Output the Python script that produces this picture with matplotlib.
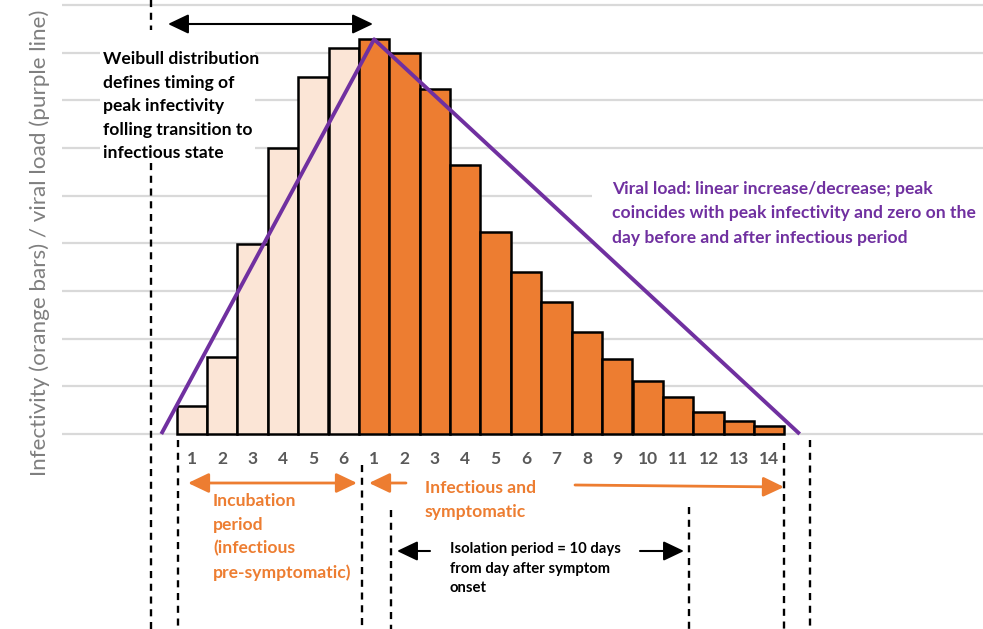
import matplotlib.pyplot as plt
from matplotlib.patches import Rectangle

# infectivity per day (grid units)
pre_days = ["1", "2", "3", "4", "5", "6"]
pre_infectivity = [0.59, 1.61, 3.98, 6.0, 7.48, 8.09]
inf_days = ["1", "2", "3", "4", "5", "6", "7", "8", "9", "10", "11", "12", "13", "14"]
inf_infectivity = [8.28, 7.99, 7.23, 5.64, 4.23, 3.40, 2.77, 2.14, 1.57, 1.11,
                   0.78, 0.46, 0.27, 0.17]
# viral load: zero the day before / after, peak on day 1 of symptoms
viral_day = [-1, 6, 20]
viral_load = [0, 8.28, 0]
grid_levels = list(range(0, 10))

W, H = 983, 629
BAR_X0, BAR_W, BASE_Y, UNIT = 176.5, 30.4, 434, 47.67

FONT = "Lato"
ORANGE = "#ED7D31"
LIGHT = "#FBE5D6"
PURPLE = "#7030A0"
NOTE_SIZE = 12.6


def dx(px):
    return (px - BAR_X0) / BAR_W - 0.5


def dy(py):
    return (BASE_Y - py) / UNIT


def fp(px, py):
    return (px / W, 1 - py / H)


fig = plt.figure(figsize=(W / 100, H / 100), dpi=100)
ax = fig.add_axes([0, 0, 1, 1])
ax.set_xlim(dx(0), dx(W))
ax.set_ylim(dy(H), dy(0))
ax.axis("off")

# gridlines
for g in grid_levels:
    ax.plot([dx(62), dx(W)], [g, g], color="#d9d9d9", lw=1.6, zorder=0,
            solid_capstyle="butt")

# white boxes behind the notes (they cut the gridlines)
ax.add_patch(Rectangle((dx(100), dy(163)), dx(255) - dx(100), dy(30) - dy(163),
                       facecolor="white", edgecolor="none", zorder=1.5))
ax.add_patch(Rectangle((dx(592), dy(252)), dx(W) - dx(592), dy(172) - dy(252),
                       facecolor="white", edgecolor="none", zorder=1.5))

# bars
n_pre = len(pre_infectivity)
ax.bar(range(n_pre), pre_infectivity, width=1, color=LIGHT,
       edgecolor="black", lw=1.8, zorder=2)
ax.bar(range(n_pre, n_pre + len(inf_infectivity)), inf_infectivity, width=1,
       color=ORANGE, edgecolor="black", lw=1.8, zorder=2)

# viral load line
ax.plot(viral_day, viral_load, color=PURPLE, lw=2.8, zorder=4,
        solid_capstyle="butt")

# day labels
for i, lab in enumerate(pre_days + inf_days):
    ax.text(i, dy(459), lab, ha="center", va="center", color="#595959",
            fontsize=12.5, fontweight="bold", family=FONT)

# dashed vertical markers
dashed = [(151, 0, 30), (151, 163, 629), (178, 440, 629), (362, 465, 629),
          (391, 510, 629), (689, 507, 629), (784, 443, 629), (810, 440, 629)]
for x, y0, y1 in dashed:
    ax.plot([dx(x), dx(x)], [dy(y0), dy(y1)], color="black", lw=1.7,
            dashes=(3, 2.4), zorder=1)


def arrow(x0, y0, x1, y1, color, style, lw=1.5):
    ax.annotate("", xy=fp(x1, y1), xytext=fp(x0, y0),
                xycoords="figure fraction", textcoords="figure fraction",
                arrowprops=dict(arrowstyle=style, color=color, lw=lw,
                                shrinkA=0, shrinkB=0, mutation_scale=12),
                zorder=6)


head = ",head_length=1.05,head_width=0.5"
arrow(168, 24, 373, 24, "black", "<|-|>" + head, lw=1.5)
arrow(188, 483, 357, 483, ORANGE, "<|-|>" + head, lw=2)
arrow(406, 483, 369, 483, ORANGE, "-|>" + head, lw=2)
arrow(575, 485, 784, 487, ORANGE, "-|>" + head, lw=2)
arrow(430, 551, 397, 551, "black", "-|>" + head, lw=1.5)
arrow(640, 551, 684, 551, "black", "-|>" + head, lw=1.5)

# notes
fig.text(*fp(103, 51), "Weibull distribution\ndefines timing of\npeak infectivity\n"
         "folling transition to\ninfectious state", ha="left", va="top",
         fontsize=NOTE_SIZE, fontweight="bold", family=FONT, linespacing=1.58,
         color="black", zorder=7)
fig.text(*fp(612, 181), "Viral load: linear increase/decrease; peak\n"
         "coincides with peak infectivity and zero on the\n"
         "day before and after infectious period", ha="left", va="top",
         fontsize=NOTE_SIZE, fontweight="bold", family=FONT, linespacing=1.64,
         color=PURPLE, zorder=7)
fig.text(*fp(213, 493), "Incubation\nperiod\n(infectious\npre-symptomatic)",
         ha="left", va="top", fontsize=NOTE_SIZE, fontweight="bold", family=FONT,
         linespacing=1.58, color=ORANGE, zorder=7)
fig.text(*fp(425, 480), "Infectious and\nsymptomatic", ha="left", va="top",
         fontsize=NOTE_SIZE, fontweight="bold", family=FONT, linespacing=1.58,
         color=ORANGE, zorder=7)
fig.text(*fp(450, 542), "Isolation period = 10 days\nfrom day after symptom\nonset",
         ha="left", va="top", fontsize=10.7, fontweight="bold", family=FONT,
         linespacing=1.5, color="black", zorder=7)

# axis title
fig.text(*fp(40, 243), "Infectivity (orange bars) / viral load (purple line)",
         rotation=90, ha="center", va="center", fontsize=16.2, family=FONT,
         color="#7f7f7f")

fig.savefig("out.png", dpi=100)
